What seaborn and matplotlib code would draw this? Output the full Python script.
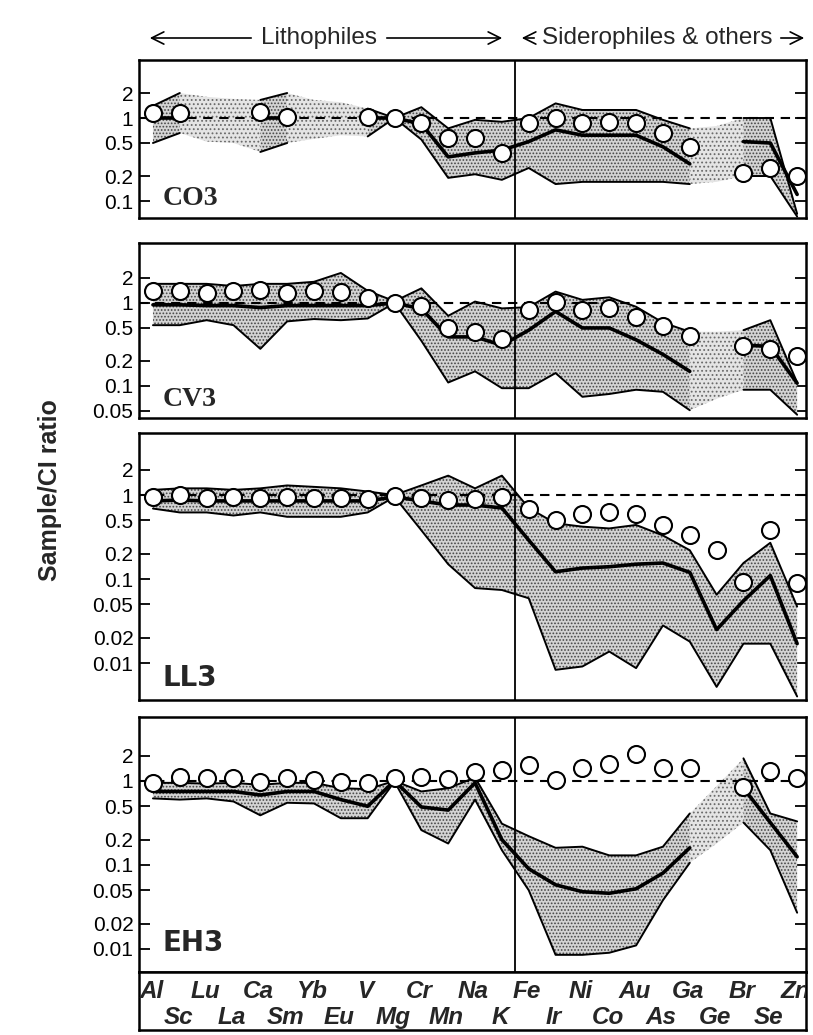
import numpy as np
import matplotlib
matplotlib.use("Agg")
import matplotlib.pyplot as plt
from matplotlib.ticker import NullLocator, FixedLocator, FixedFormatter
import seaborn as sns

sns.set_theme(style="white")
plt.rcParams["font.family"] = ["Liberation Sans", "DejaVu Sans"]
plt.rcParams["hatch.linewidth"] = 0.8

nan = np.nan
elements = ["Al", "Sc", "Lu", "La", "Ca", "Sm", "Yb", "Eu", "V", "Mg", "Cr", "Mn", "Na", "K",
            "Fe", "Ir", "Ni", "Co", "Au", "As", "Ga", "Ge", "Br", "Se", "Zn"]

# ---------------- CO3 ----------------
co3_sample = [1.14, 1.14, nan, nan, 1.19, 1.04, nan, nan, 1.04, 1.0, 0.88, 0.57, 0.57, 0.38,
              0.87, 1.0, 0.87, 0.9, 0.87, 0.66, 0.45, nan, 0.22, 0.25, 0.2]
co3_upper = [1.4, 2.0, 1.8, 1.7, 1.65, 2.0, 1.65, 1.55, 1.3, 1.0, 1.35, 0.75, 0.95, 0.9,
             1.0, 1.5, 1.25, 1.25, 1.25, 0.95, 0.75, 0.8, 1.0, 1.0, 0.07]
co3_lower = [0.5, 0.66, 0.52, 0.5, 0.39, 0.5, 0.56, 0.62, 0.6, 1.0, 0.55, 0.19, 0.21, 0.18,
             0.25, 0.16, 0.17, 0.17, 0.17, 0.17, 0.16, 0.17, 0.2, 0.2, 0.065]
co3_mean = [1.0, 1.0, nan, nan, 1.0, 1.0, nan, nan, 1.0, 1.0, 0.85, 0.34, 0.38, 0.41,
            0.52, 0.72, 0.62, 0.62, 0.62, 0.45, 0.28, nan, 0.52, 0.5, 0.12]

# ---------------- CV3 ----------------
cv3_sample = [1.41, 1.41, 1.31, 1.41, 1.43, 1.31, 1.41, 1.37, 1.14, 1.0, 0.92, 0.50, 0.45, 0.37,
              0.82, 1.04, 0.82, 0.86, 0.67, 0.53, 0.40, nan, 0.30, 0.28, 0.23]
cv3_upper = [1.7, 1.7, 1.7, 1.6, 1.7, 1.7, 1.8, 2.3, 1.4, 1.05, 1.5, 0.7, 1.04, 0.86,
             0.89, 1.37, 1.09, 1.17, 0.9, 0.58, 0.45, 0.45, 0.47, 0.62, 0.11]
cv3_lower = [0.54, 0.54, 0.62, 0.54, 0.28, 0.60, 0.64, 0.62, 0.65, 1.0, 0.35, 0.11, 0.15, 0.094,
             0.094, 0.143, 0.074, 0.08, 0.09, 0.085, 0.051, 0.07, 0.09, 0.09, 0.045]
cv3_mean = [0.95, 0.95, 0.93, 0.93, 0.88, 0.93, 0.93, 0.93, 0.93, 1.0, 0.85, 0.39, 0.39, 0.31,
            0.47, 0.79, 0.50, 0.50, 0.36, 0.24, 0.15, nan, 0.31, 0.30, 0.108]

# ---------------- LL3 ----------------
ll3_sample = [0.95, 1.0, 0.91, 0.95, 0.91, 0.95, 0.91, 0.91, 0.9, 0.97, 0.91, 0.87, 0.90, 0.94,
              0.69, 0.50, 0.60, 0.62, 0.60, 0.44, 0.33, 0.22, 0.093, 0.38, 0.089]
ll3_upper = [1.15, 1.2, 1.2, 1.15, 1.2, 1.3, 1.25, 1.2, 1.1, 1.0, 1.3, 1.7, 1.2, 1.7,
             0.7, 0.46, 0.42, 0.40, 0.44, 0.33, 0.22, 0.065, 0.155, 0.27, 0.047]
ll3_lower = [0.69, 0.62, 0.62, 0.57, 0.62, 0.55, 0.55, 0.55, 0.62, 0.95, 0.38, 0.15, 0.078, 0.074,
             0.059, 0.0083, 0.0091, 0.0137, 0.0087, 0.028, 0.018, 0.0052, 0.017, 0.017, 0.004]
ll3_mean = [0.85, 0.87, 0.85, 0.85, 0.85, 0.85, 0.85, 0.85, 0.85, 0.95, 0.85, 0.76, 0.76, 0.70,
            0.29, 0.122, 0.135, 0.14, 0.15, 0.155, 0.12, 0.025, 0.055, 0.11, 0.017]

# ---------------- EH3 ----------------
eh3_sample = [0.94, 1.13, 1.08, 1.08, 0.98, 1.08, 1.03, 0.98, 0.94, 1.08, 1.13, 1.05, 1.29, 1.35,
              1.55, 1.03, 1.42, 1.58, 2.1, 1.42, 1.42, nan, 0.84, 1.33, 1.08]
eh3_upper = [0.95, 0.95, 0.93, 0.95, 0.9, 0.95, 0.95, 0.82, 0.8, 1.0, 0.75, 0.82, 1.1, 0.31,
             0.22, 0.16, 0.165, 0.13, 0.13, 0.165, 0.41, 0.87, 1.86, 0.41, 0.33]
eh3_lower = [0.62, 0.6, 0.62, 0.57, 0.39, 0.55, 0.54, 0.36, 0.36, 0.98, 0.26, 0.18, 0.6, 0.15,
             0.05, 0.0085, 0.0085, 0.009, 0.011, 0.038, 0.106, 0.18, 0.32, 0.15, 0.027]
eh3_mean = [0.75, 0.75, 0.75, 0.75, 0.68, 0.75, 0.75, 0.6, 0.5, 1.0, 0.49, 0.45, 0.95, 0.2,
            0.09, 0.058, 0.048, 0.046, 0.052, 0.08, 0.16, nan, 0.82, 0.32, 0.125]

tick_values = [2, 1, 0.5, 0.2, 0.1, 0.05, 0.02, 0.01]
tick_labels = ["2", "1", "0.5", "0.2", "0.1", "0.05", "0.02", "0.01"]

panels = [
    dict(name="CO3", s=co3_sample, up=co3_upper, lo=co3_lower, mn=co3_mean,
         light=[(1, 4), (5, 8), (20, 22)], ylim=(0.0624, 5.0), nt=5,
         box=(60, 218), font="Liberation Serif", ly=0.045),
    dict(name="CV3", s=cv3_sample, up=cv3_upper, lo=cv3_lower, mn=cv3_mean,
         light=[(20, 22)], ylim=(0.0411, 5.28), nt=6,
         box=(243, 418), font="Liberation Serif", ly=0.035),
    dict(name="LL3", s=ll3_sample, up=ll3_upper, lo=ll3_lower, mn=ll3_mean,
         light=[], ylim=(0.00363, 5.47), nt=8,
         box=(433, 700), font="DejaVu Sans", ly=0.03),
    dict(name="EH3", s=eh3_sample, up=eh3_upper, lo=eh3_lower, mn=eh3_mean,
         light=[(20, 22)], ylim=(0.00531, 5.78), nt=8,
         box=(717, 972), font="DejaVu Sans", ly=0.06),
]

W, H = 813, 1035
fig = plt.figure(figsize=(W / 100, H / 100), dpi=100)
x = np.arange(len(elements))
XL, XR = 139, 806
xlim = (-0.52, 24.33)


def runs(n, light):
    dark = np.ones(n - 1, bool)
    for a, b in light:
        dark[a:b] = False
    out = []
    i = 0
    while i < n - 1:
        st = dark[i]
        j = i
        while j < n - 1 and dark[j] == st:
            j += 1
        out.append((i, j, st))
        i = j
    return out


def draw_line(ax, xs, ys, lw):
    ys = np.asarray(ys, float)
    xs = np.asarray(xs)
    ok = ~np.isnan(ys)
    i = 0
    n = len(ys)
    while i < n:
        if not ok[i]:
            i += 1
            continue
        j = i
        while j < n and ok[j]:
            j += 1
        if j - i >= 2:
            sns.lineplot(x=xs[i:j], y=ys[i:j], ax=ax, color="black", lw=lw,
                         estimator=None, sort=False, legend=False, zorder=4)
        i = j


for p in panels:
    top, bot = p["box"]
    ax = fig.add_axes([XL / W, 1 - bot / H, (XR - XL) / W, (bot - top) / H])
    ax.set_yscale("log")
    up = np.array(p["up"], float)
    lo = np.array(p["lo"], float)
    for a, b, dark in runs(len(x), p["light"]):
        sl = slice(a, b + 1)
        if dark:
            ax.fill_between(x[sl], lo[sl], up[sl], facecolor="#d4d4d4", edgecolor="#474747",
                            hatch=".....", linewidth=0, zorder=1)
            draw_line(ax, x[sl], up[sl], 1.4)
            draw_line(ax, x[sl], lo[sl], 1.4)
        else:
            ax.fill_between(x[sl], lo[sl], up[sl], facecolor="#e4e4e4", edgecolor="#6a6a6a",
                            hatch="....", linewidth=0, zorder=1)
    draw_line(ax, x, p["mn"], 2.6)
    ax.axhline(1, color="black", lw=1.5, ls=(0, (4.5, 3.2)), zorder=3)
    ax.axvline(13.5, color="black", lw=1.3, zorder=3)
    sns.scatterplot(x=x, y=p["s"], ax=ax, s=150, facecolor="white", edgecolor="black",
                    linewidth=1.5, zorder=6, legend=False)
    ax.set_xlim(*xlim)
    ax.set_ylim(*p["ylim"])
    ax.set_xticks([])
    ax.yaxis.set_major_locator(FixedLocator(tick_values[:p["nt"]]))
    ax.yaxis.set_major_formatter(FixedFormatter(tick_labels[:p["nt"]]))
    ax.yaxis.set_minor_locator(NullLocator())
    ax.tick_params(axis="y", which="major", direction="in", length=8, width=1.3,
                   left=True, right=True, labelsize=15, pad=4, colors="black")
    ax.set_xlabel("")
    ax.set_ylabel("")
    for sp in ax.spines.values():
        sp.set_color("black")
        sp.set_linewidth(1.8)
    ax.text(0.035, p["ly"], p["name"], transform=ax.transAxes, fontsize=20,
            fontweight="bold", family=p["font"], ha="left", va="bottom", zorder=7)

# element label box
lab = fig.add_axes([XL / W, 1 - 1030 / H, (XR - XL) / W, (1030 - 972) / H])
lab.set_xlim(*xlim)
lab.set_ylim(0, 1)
lab.set_xticks([])
lab.set_yticks([])
for sp in lab.spines.values():
    sp.set_color("black")
    sp.set_linewidth(1.8)
for i, el in enumerate(elements):
    lab.text(i - 0.06, 0.66 if i % 2 == 0 else 0.21, el, ha="center", va="center",
             fontsize=17.5, fontweight="bold", fontstyle="italic", family="Liberation Sans",
             clip_on=True)

# header and y label (pixel overlay)
ov = fig.add_axes([0, 0, 1, 1])
ov.set_xlim(0, W)
ov.set_ylim(H, 0)
ov.axis("off")
hy = 38
ov.text(319, hy, "Lithophiles", ha="center", va="center", fontsize=17.5)
ov.annotate("", xy=(147, hy), xytext=(254, hy),
            arrowprops=dict(arrowstyle="->", lw=1.2, color="black", mutation_scale=22))
ov.annotate("", xy=(505, hy), xytext=(384, hy),
            arrowprops=dict(arrowstyle="->", lw=1.2, color="black", mutation_scale=22))
ov.text(657, hy, "Siderophiles & others", ha="center", va="center", fontsize=17.5)
ov.annotate("", xy=(519, hy), xytext=(537, hy),
            arrowprops=dict(arrowstyle="->", lw=1.2, color="black", mutation_scale=22))
ov.annotate("", xy=(807, hy), xytext=(778, hy),
            arrowprops=dict(arrowstyle="->", lw=1.2, color="black", mutation_scale=22))
ov.text(50, 490, "Sample/CI ratio", rotation=90, ha="center", va="center",
        fontsize=18, fontweight="bold")

fig.savefig("out.png", dpi=100)
